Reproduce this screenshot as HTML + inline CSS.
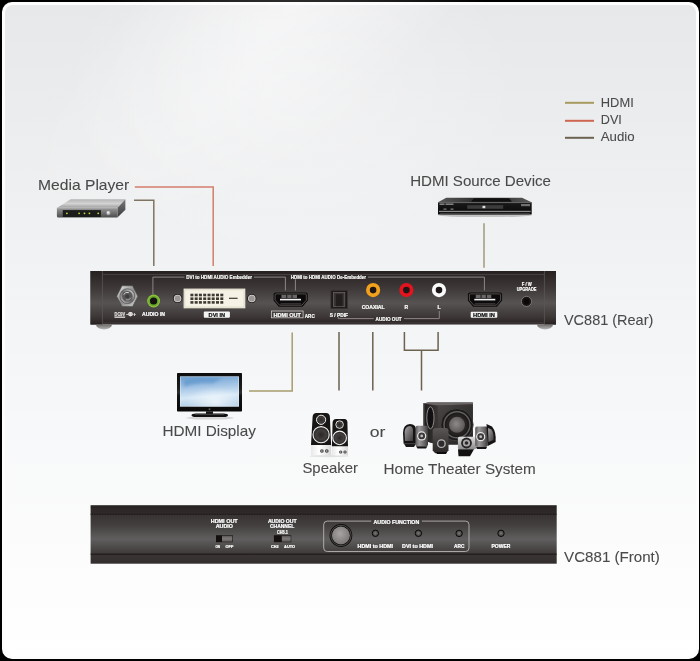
<!DOCTYPE html>
<html><head><meta charset="utf-8">
<style>
html,body{margin:0;padding:0;background:#000;width:700px;height:661px;overflow:hidden}
svg{display:block;font-family:"Liberation Sans",sans-serif;will-change:transform}
</style></head>
<body>
<svg width="700" height="661" viewBox="0 0 700 661">
<defs>
<linearGradient id="bg" x1="0" y1="0" x2="0" y2="1">
<stop offset="0" stop-color="#e7e8ea"/>
<stop offset="0.38" stop-color="#f1f2f3"/>
<stop offset="0.64" stop-color="#f7f8f9"/>
<stop offset="0.9" stop-color="#fdfdfd"/>
<stop offset="1" stop-color="#ffffff"/>
</linearGradient>
<linearGradient id="streak" gradientUnits="userSpaceOnUse" x1="220" y1="-110" x2="420" y2="60">
<stop offset="0" stop-color="#ffffff" stop-opacity="0"/>
<stop offset="0.5" stop-color="#ffffff" stop-opacity="0.5"/>
<stop offset="1" stop-color="#ffffff" stop-opacity="0"/>
</linearGradient>
<linearGradient id="streakFade" x1="0" y1="0" x2="0" y2="1">
<stop offset="0" stop-color="#fff" stop-opacity="1"/>
<stop offset="0.6" stop-color="#fff" stop-opacity="0"/>
</linearGradient>
<mask id="streakMask"><rect x="0" y="0" width="700" height="400" fill="url(#streakFade)"/></mask>
<linearGradient id="panelR" x1="0" y1="0" x2="0" y2="1">
<stop offset="0" stop-color="#262020"/>
<stop offset="0.1" stop-color="#2e2828"/>
<stop offset="0.3" stop-color="#3c3636"/>
<stop offset="0.6" stop-color="#575353"/>
<stop offset="0.86" stop-color="#3c3636"/>
<stop offset="0.95" stop-color="#2e2828"/>
<stop offset="1" stop-color="#262020"/>
</linearGradient>
<linearGradient id="panelF" x1="0" y1="0" x2="0" y2="1">
<stop offset="0" stop-color="#2a2424"/>
<stop offset="0.155" stop-color="#302a2a"/>
<stop offset="0.16" stop-color="#383232"/>
<stop offset="0.35" stop-color="#444040"/>
<stop offset="0.58" stop-color="#605e5e"/>
<stop offset="0.8" stop-color="#423e3e"/>
<stop offset="0.84" stop-color="#3a3535"/>
<stop offset="0.845" stop-color="#3a3434"/>
<stop offset="1" stop-color="#332e2e"/>
</linearGradient>
<linearGradient id="capR" x1="0" y1="0" x2="0" y2="1">
<stop offset="0" stop-color="#262020"/>
<stop offset="0.6" stop-color="#504a4a"/>
<stop offset="1" stop-color="#2a2424"/>
</linearGradient>
<linearGradient id="foot" x1="0" y1="0" x2="0" y2="1">
<stop offset="0" stop-color="#6e6a6a"/>
<stop offset="1" stop-color="#b8b6b6"/>
</linearGradient>
<linearGradient id="metal" x1="0" y1="0" x2="1" y2="1">
<stop offset="0" stop-color="#f0f0f0"/>
<stop offset="0.5" stop-color="#8a8888"/>
<stop offset="1" stop-color="#d8d8d8"/>
</linearGradient>
<linearGradient id="metal2" x1="1" y1="0" x2="0" y2="1">
<stop offset="0" stop-color="#e8e8e8"/>
<stop offset="0.5" stop-color="#6a6868"/>
<stop offset="1" stop-color="#c8c8c8"/>
</linearGradient>
<linearGradient id="sw" x1="0" y1="0" x2="0" y2="1">
<stop offset="0" stop-color="#5a5656"/>
<stop offset="0.5" stop-color="#7e7a7a"/>
<stop offset="1" stop-color="#5e5a5a"/>
</linearGradient>
<radialGradient id="btn" cx="0.45" cy="0.4" r="0.6">
<stop offset="0" stop-color="#a8a4a4"/>
<stop offset="1" stop-color="#7a7676"/>
</radialGradient>
<linearGradient id="mpTop" x1="0" y1="0" x2="0" y2="1">
<stop offset="0" stop-color="#b4b4b4"/>
<stop offset="0.5" stop-color="#d4d4d4"/>
<stop offset="1" stop-color="#9c9c9c"/>
</linearGradient>
<linearGradient id="mpSide" x1="0" y1="0" x2="0" y2="1">
<stop offset="0" stop-color="#7a7a7a"/>
<stop offset="1" stop-color="#3a3a3a"/>
</linearGradient>
<linearGradient id="mpFront" x1="0" y1="0" x2="0" y2="1">
<stop offset="0" stop-color="#9a9a9a"/>
<stop offset="1" stop-color="#4a4a4a"/>
</linearGradient>
<radialGradient id="knob" cx="0.4" cy="0.4" r="0.6">
<stop offset="0" stop-color="#ffffff"/>
<stop offset="1" stop-color="#8a8a8a"/>
</radialGradient>
<linearGradient id="srcTop" x1="0" y1="0" x2="1" y2="0">
<stop offset="0" stop-color="#5a5a5a"/>
<stop offset="0.35" stop-color="#333"/>
<stop offset="0.65" stop-color="#333"/>
<stop offset="1" stop-color="#5a5a5a"/>
</linearGradient>
<linearGradient id="srcFront" x1="0" y1="0" x2="0" y2="1">
<stop offset="0" stop-color="#1a1a1a"/>
<stop offset="1" stop-color="#080808"/>
</linearGradient>
<linearGradient id="screen" x1="0" y1="0" x2="0.15" y2="1">
<stop offset="0" stop-color="#6a9ed0"/>
<stop offset="0.4" stop-color="#a6c6e6"/>
<stop offset="0.72" stop-color="#d6e8f6"/>
<stop offset="1" stop-color="#b2d0ea"/>
</linearGradient>
<linearGradient id="bezel" x1="0" y1="0" x2="0" y2="1">
<stop offset="0" stop-color="#0c0c0c"/>
<stop offset="0.4" stop-color="#1e1e1e"/>
<stop offset="0.5" stop-color="#2e2e2e"/>
<stop offset="0.6" stop-color="#121212"/>
<stop offset="1" stop-color="#0a0a0a"/>
</linearGradient>
<radialGradient id="screenHi" cx="0.6" cy="0.85" r="0.5">
<stop offset="0" stop-color="#ffffff" stop-opacity="0.7"/>
<stop offset="1" stop-color="#ffffff" stop-opacity="0"/>
</radialGradient>
<linearGradient id="spBase" x1="0" y1="0" x2="1" y2="0">
<stop offset="0" stop-color="#e8e8e8"/>
<stop offset="0.4" stop-color="#ffffff"/>
<stop offset="1" stop-color="#d8d8d8"/>
</linearGradient>
<linearGradient id="subSide" x1="0" y1="0" x2="1" y2="0">
<stop offset="0" stop-color="#1e1c1c"/>
<stop offset="1" stop-color="#3a3636"/>
</linearGradient>
<linearGradient id="subFront" x1="0" y1="0" x2="1" y2="1">
<stop offset="0" stop-color="#4a4646"/>
<stop offset="1" stop-color="#222020"/>
</linearGradient>
<radialGradient id="cone" cx="0.45" cy="0.45" r="0.6">
<stop offset="0" stop-color="#8e8a8a"/>
<stop offset="1" stop-color="#565252"/>
</radialGradient>
<linearGradient id="sat" x1="0" y1="0" x2="1" y2="0">
<stop offset="0" stop-color="#6a6666"/>
<stop offset="0.5" stop-color="#3a3636"/>
<stop offset="1" stop-color="#1a1818"/>
</linearGradient>
<linearGradient id="sat2" x1="0" y1="0" x2="0" y2="1">
<stop offset="0" stop-color="#5a5656"/>
<stop offset="1" stop-color="#2a2626"/>
</linearGradient>
<linearGradient id="satRefl" x1="0" y1="0" x2="1" y2="1">
<stop offset="0" stop-color="#a8a6a6"/>
<stop offset="1" stop-color="#3a3838"/>
</linearGradient>
<linearGradient id="satMetal" x1="0" y1="0" x2="1" y2="0">
<stop offset="0" stop-color="#5a5858"/>
<stop offset="0.3" stop-color="#9a9898"/>
<stop offset="0.7" stop-color="#6a6868"/>
<stop offset="1" stop-color="#3a3838"/>
</linearGradient>
<linearGradient id="satSilver" x1="0" y1="0" x2="0" y2="1">
<stop offset="0" stop-color="#e0e0e0"/>
<stop offset="1" stop-color="#8a8a8a"/>
</linearGradient>
<filter id="blur2" x="-20%" y="-50%" width="140%" height="200%"><feGaussianBlur stdDeviation="1.6"/></filter>
<clipPath id="scrClip"><rect x="180" y="376.5" width="59" height="30"/></clipPath>
<radialGradient id="spCone" cx="0.5" cy="0.5" r="0.5">
<stop offset="0" stop-color="#2a2626"/>
<stop offset="0.6" stop-color="#433e3e"/>
<stop offset="1" stop-color="#2a2626"/>
</radialGradient>
<linearGradient id="metal3" x1="0" y1="0" x2="1" y2="1">
<stop offset="0" stop-color="#9a9898"/>
<stop offset="0.5" stop-color="#dcdcdc"/>
<stop offset="1" stop-color="#6a6868"/>
</linearGradient>
<radialGradient id="led" cx="0.5" cy="0.5" r="0.5">
<stop offset="0" stop-color="#7a7676"/>
<stop offset="1" stop-color="#3e3a3a"/>
</radialGradient>
<radialGradient id="glow" cx="0.5" cy="0.5" r="0.5">
<stop offset="0" stop-color="#ffffff" stop-opacity="0.35"/>
<stop offset="1" stop-color="#ffffff" stop-opacity="0"/>
</radialGradient>
</defs>
<!-- panel -->
<rect x="2" y="2" width="697" height="657" rx="10" ry="10" fill="#fdfdfd"/>
<rect x="5" y="5" width="691" height="651" rx="8" ry="8" fill="url(#bg)"/>
<rect x="5" y="5" width="691" height="400" fill="url(#streak)" mask="url(#streakMask)"/>
<ellipse cx="290" cy="90" rx="230" ry="170" fill="url(#glow)"/>

<!-- labels -->
<g fill="#4a4a4a" stroke="#4a4a4a" stroke-width="0.08"><!--TXT-->
<text x="38.02" y="189.8" font-size="14.5" textLength="91.26" lengthAdjust="spacingAndGlyphs">Media Player</text>
<text x="410.16" y="185.9" font-size="14.5" textLength="140.78" lengthAdjust="spacingAndGlyphs">HDMI Source Device</text>
<text x="162.54" y="436.4" font-size="14.5" textLength="93.36" lengthAdjust="spacingAndGlyphs">HDMI Display</text>
<text x="369.68" y="437.4" font-size="14.5" textLength="15.64" lengthAdjust="spacingAndGlyphs">or</text>
<text x="302.44" y="473.4" font-size="14.5" textLength="55.46" lengthAdjust="spacingAndGlyphs">Speaker</text>
<text x="383.40" y="473.6" font-size="14.5" textLength="152.44" lengthAdjust="spacingAndGlyphs">Home Theater System</text>
<text x="563.96" y="324.5" font-size="14.5" textLength="89.36" lengthAdjust="spacingAndGlyphs">VC881 (Rear)</text>
<text x="564.10" y="562.4" font-size="14.5" textLength="95.74" lengthAdjust="spacingAndGlyphs">VC881 (Front)</text>
<text x="600.82" y="107.0" font-size="12.5" textLength="32.92" lengthAdjust="spacingAndGlyphs">HDMI</text>
<text x="600.82" y="124.3" font-size="12.5" textLength="21.06" lengthAdjust="spacingAndGlyphs">DVI</text>
<text x="600.72" y="141.25" font-size="12.5" textLength="33.84" lengthAdjust="spacingAndGlyphs">Audio</text>
<!--/TXT--></g>
<!-- legend -->
<g stroke-width="2" fill="none">
<path d="M565 102.8H594" stroke="#a89a60"/>
<path d="M565 120.8H594" stroke="#cf6652"/>
<path d="M565 137.8H594" stroke="#6c6250"/>
</g>
<!-- connection lines -->
<g fill="none" stroke-width="1.5">
<path d="M134.8 187H213.2V266" stroke="#d47e6c"/>
<path d="M134 200.3H153.8V266" stroke="#7e7462"/>
<path d="M484 223.2V267.8" stroke="#a09a78"/>
<path d="M292.2 332.5V391H249" stroke="#a89c6e"/>
<path d="M339 332V390.4M372.8 332V390.4M404.4 332V350.3H438.1V332M421.5 350.3V390.4" stroke="#6c6250"/>
</g>

<!-- devices -->
<g id="mediaplayer">
<path d="M70.6 199.3H125.4L117.4 207.9H56.9Z" fill="url(#mpTop)"/>
<path d="M117.4 207.9L125.4 199.3V209.8L117.4 217.6Z" fill="url(#mpSide)"/>
<path d="M56.9 207.9H117.4V217.6H58.4Q56.9 217.6 56.9 216Z" fill="url(#mpFront)"/>
<path d="M56.9 207.9H117.4" stroke="#d8d8d8" stroke-width="0.6"/>
<rect x="62.8" y="210.1" width="38.1" height="6.9" fill="#1c1c1a"/>
<g fill="#c8e040">
<circle cx="66.9" cy="213.3" r="0.9"/><circle cx="79.1" cy="213.3" r="0.9"/><circle cx="84.5" cy="213.3" r="0.9"/><circle cx="89.4" cy="213.3" r="0.9"/><circle cx="98.2" cy="213.3" r="0.9"/>
</g>
<circle cx="108.5" cy="213" r="2.2" fill="url(#knob)"/>
</g>
<g id="hdmisrc">
<ellipse cx="485" cy="215.5" rx="47" ry="1.6" fill="#8a8a8a" opacity="0.45"/>
<path d="M446.2 197.7H522L531.7 202.2H438Z" fill="url(#srcTop)"/>
<path d="M474 198.2H509L512 201.8H471Z" fill="#101010"/>
<rect x="438" y="202.2" width="93.7" height="12.3" fill="url(#srcFront)"/>
<path d="M438 202.6H531.7" stroke="#7a7a7a" stroke-width="0.7"/>
<rect x="439" y="210.8" width="91.7" height="1.3" fill="#8a8a8a"/>
<rect x="440" y="213.2" width="89.7" height="1.3" fill="#4a4a4a"/>
<rect x="467.2" y="205.2" width="36" height="3.6" fill="#3c3c3c"/>
<rect x="482.5" y="205.8" width="2.8" height="2.4" fill="#e0e0e0"/>
<rect x="439.5" y="203.6" width="5" height="1.1" fill="#b0b0b0"/>
<rect x="445.5" y="203.6" width="8" height="1.1" fill="#b0b0b0"/>
<rect x="443.5" y="208.6" width="3" height="1" fill="#9a9a9a"/>
<rect x="450.5" y="208.6" width="3" height="1" fill="#9a9a9a"/>
<rect x="521" y="204" width="9" height="2.2" fill="#707070"/>
</g>
<g id="tv">
<ellipse cx="210" cy="418" rx="24" ry="1.6" fill="#c8c8c8" opacity="0.7"/>
<rect x="177" y="373" width="65" height="38.5" rx="0.8" fill="url(#bezel)"/>
<rect x="180" y="376.5" width="59" height="30" fill="url(#screen)"/>
<rect x="180" y="376.5" width="59" height="30" fill="url(#screenHi)"/>
<path d="M184 380Q200 377.5 222 378L213 383.5Q196 382 184 387Z" fill="#3f7fc0" opacity="0.4" filter="url(#blur2)" clip-path="url(#scrClip)"/>
<rect x="180.3" y="376.8" width="58.4" height="29.4" fill="none" stroke="#e8f2fa" stroke-width="0.6" opacity="0.8"/>
<circle cx="209.5" cy="409.2" r="1" fill="#5a5a5a"/>
<rect x="206" y="411.3" width="7" height="3" fill="#151515"/>
<path d="M191.5 415.3Q191.5 413.5 196 413.5H223.5Q228 413.5 228 415.3Q228 417.1 223.5 417.1H196Q191.5 417.1 191.5 415.3Z" fill="#121212"/>
<path d="M195 414.3H224" stroke="#6a6a6a" stroke-width="0.6"/>
</g>
<g id="speakers">
<ellipse cx="329" cy="456" rx="20" ry="1.2" fill="#d0d0d0" opacity="0.6"/>
<path d="M312.6 417Q312.8 413.1 316.5 413.1H326Q329.7 413.1 329.9 417L331.1 445H311Z" fill="#181515"/>
<rect x="311" y="445" width="20.1" height="10.2" fill="url(#spBase)"/>
<circle cx="321.1" cy="419.8" r="4.6" fill="url(#spCone)" stroke="#f0f0f0" stroke-width="1"/>
<circle cx="321.1" cy="434.7" r="8.1" fill="url(#spCone)" stroke="#f0f0f0" stroke-width="1.1"/>
<circle cx="321.9" cy="451" r="1.8" fill="#3a3a3a"/><circle cx="321.9" cy="451" r="0.8" fill="#cfcfcf"/>
<circle cx="326.8" cy="451" r="1.8" fill="#3a3a3a"/><circle cx="326.8" cy="451" r="0.8" fill="#cfcfcf"/>
<path d="M332.6 422.5Q332.8 419 336 419H344.5Q347.3 419 347.4 422.5L348 446.5H331.9Z" fill="#181515"/>
<rect x="331.9" y="446.5" width="16.1" height="9" fill="url(#spBase)"/>
<circle cx="339.6" cy="424.6" r="3.8" fill="url(#spCone)" stroke="#f0f0f0" stroke-width="0.9"/>
<circle cx="339.6" cy="437.9" r="6.8" fill="url(#spCone)" stroke="#f0f0f0" stroke-width="1.1"/>
<circle cx="340.7" cy="452" r="1.6" fill="#3a3a3a"/><circle cx="340.7" cy="452" r="0.7" fill="#cfcfcf"/>
<circle cx="345" cy="452" r="1.6" fill="#3a3a3a"/><circle cx="345" cy="452" r="0.7" fill="#cfcfcf"/>
</g>
<g id="theater">
<!-- subwoofer -->
<path d="M423.3 403.4L428 402.6H472.8V444.5H437.5L423.3 440.5Z" fill="#262222"/>
<path d="M423.3 403.4L437.5 405.6V444.5L423.3 440.5Z" fill="url(#subSide)"/>
<path d="M437.5 405.6L472.8 404.2V444.5H437.5Z" fill="url(#subFront)"/>
<path d="M423.3 403.4L428 402.6H472.8V404.2L437.5 405.6Z" fill="#6a6666"/>
<path d="M423.8 404V440" stroke="#8a8686" stroke-width="0.8"/>
<ellipse cx="430.4" cy="417.8" rx="3.6" ry="11" fill="#121010" stroke="#9a9696" stroke-width="0.9"/>
<circle cx="457" cy="424.8" r="16.2" fill="#1c1a1a" stroke="#4a4646" stroke-width="0.8"/>
<circle cx="457" cy="424.8" r="13" fill="none" stroke="#625e5e" stroke-width="1.4"/>
<circle cx="457" cy="424.8" r="10.8" fill="#262222"/>
<circle cx="457" cy="424.8" r="8" fill="url(#cone)"/>
<!-- satellites -->
<path d="M403 433Q403 424.5 410 424Q416.2 424 416.2 431V443.7H403.6Z" fill="#141212"/>
<path d="M404.6 432Q405 426.5 410 426Q413 426.5 413 431V441H405Z" fill="url(#satRefl)"/>
<path d="M404 443.7H416L414 447H406Z" fill="#1a1818"/>
<rect x="415.4" y="425.7" width="12.6" height="20.5" rx="1.8" fill="url(#satMetal)"/>
<circle cx="421.7" cy="435.9" r="4.6" fill="#e6e6e6"/>
<circle cx="421.7" cy="435.9" r="3.4" fill="#3a3838"/>
<circle cx="421.7" cy="435.9" r="1.4" fill="#bdbdbd"/>
<path d="M416 446.2H427.5L426 448.5H417.5Z" fill="#151313"/>
<path d="M432.7 431Q432.7 428 436 428H445.5Q448.5 428 448.5 431V450.5L446 453.2H435.2L432.7 450.5Z" fill="url(#sat2)"/>
<circle cx="441.4" cy="443.7" r="4.4" fill="#b8b6b6"/>
<circle cx="441.4" cy="443.7" r="3.1" fill="#2e2c2c"/>
<path d="M436 452H447L446 454H437Z" fill="#0e0c0c"/>
<rect x="457.9" y="436.7" width="18.1" height="12.5" rx="1.5" fill="url(#satSilver)"/>
<circle cx="466.5" cy="443" r="5.4" fill="#252323"/>
<circle cx="466.5" cy="443" r="3.6" fill="#a8a6a6"/>
<circle cx="466.5" cy="443" r="1.8" fill="#2a2828"/>
<path d="M458 449.2H474L470 456.3H458.5Z" fill="#121010"/>
<rect x="475.2" y="426.4" width="12.6" height="20.5" rx="1.8" fill="url(#satMetal)"/>
<circle cx="480.7" cy="436.7" r="4.6" fill="#e6e6e6"/>
<circle cx="480.7" cy="436.7" r="3.4" fill="#3a3838"/>
<circle cx="480.7" cy="436.7" r="1.4" fill="#bdbdbd"/>
<path d="M476 446.9H487L486 449H477Z" fill="#151313"/>
<path d="M486.5 424L492 426.5Q496.5 432 495.6 442L487.8 446Z" fill="#161414"/>
<path d="M488 428L491.5 429.5Q494 433 493.5 440L488.5 442Z" fill="url(#satRefl)"/>
</g>
<!-- rear panel -->
<g id="rear">
<rect x="90.5" y="271" width="465.5" height="53.5" fill="url(#panelR)"/>
<rect x="90.5" y="271" width="12" height="53.5" fill="url(#panelR)"/>
<rect x="544.4" y="271" width="11.6" height="53.5" fill="url(#panelR)"/>
<g stroke="#6b6363" stroke-width="0.8" fill="none">
<path d="M102.4 271V324.5M544.4 271V324.5" stroke="#5e5656"/>
<path d="M102.4 274.5H544.4M102.4 323H544.4" stroke="#4e4646"/>
</g>
<!-- feet -->
<path d="M96 324.5H112A8 5 0 0 1 96 324.5Z" fill="url(#foot)"/>
<path d="M537 324.5H553A8 5 0 0 1 537 324.5Z" fill="url(#foot)"/>
<!-- power nut -->
<g transform="translate(127.3 296.2)">
<path d="M-10.6 0L-5.3 -10.4H5.3L10.6 0L5.3 10.4H-5.3Z" fill="url(#metal)" stroke="#4a4646" stroke-width="0.6"/>
<circle r="7.4" fill="url(#metal2)" stroke="#4e4c4c" stroke-width="0.7"/>
<circle r="5.2" fill="#595757"/>
<path d="M-3.6 -1.5A4 4 0 0 1 1.5 -3.6" stroke="#e0e0e0" stroke-width="0.9" fill="none"/>
<path d="M3.6 1.5A4 4 0 0 1 -1.5 3.6" stroke="#bdbdbd" stroke-width="0.8" fill="none"/>
<circle r="2" fill="#3e3c3c"/>
</g>
<g fill="#e8e4e4" stroke="#e8e4e4" stroke-width="0.15" font-weight="bold" font-size="5">
<text x="114.6" y="316" font-size="4.6" textLength="10.5" lengthAdjust="spacingAndGlyphs">DC9V</text>
<rect x="114.6" y="316.6" width="10.5" height="1.2"/>
<text x="126.2" y="316" font-size="5.5" textLength="10" lengthAdjust="spacingAndGlyphs">-&#x2295;+</text>
</g>
<!-- audio in -->
<circle cx="153.6" cy="301" r="6.4" fill="#8cc43c"/>
<circle cx="153.6" cy="301" r="5.2" fill="#6aa82a"/>
<circle cx="153.6" cy="301" r="3.6" fill="#151212"/>
<!-- top lines -->
<g stroke="#8e8686" stroke-width="1" fill="none">
<path d="M152.9 294.5V277.1H184.5"/>
<path d="M254 277.1H285.4V290.5"/>
<path d="M295.4 279.3V290.5"/>
<path d="M368 277.1H484.4V290.5"/>
<path d="M338.3 316.8V318.6H373.7"/>
<path d="M404 318.6H439.3V311"/>
</g>
<g fill="#ffffff" stroke="#ffffff" stroke-width="0.2" font-weight="bold" font-size="5.2">
<text x="186.3" y="279.2" textLength="65.7" lengthAdjust="spacingAndGlyphs">DVI to HDMI AUDIO Embedder</text>
<text x="290.7" y="279.2" textLength="75.4" lengthAdjust="spacingAndGlyphs">HDMI to HDMI AUDIO De-Embedder</text>
<text x="142" y="316.3" textLength="23" lengthAdjust="spacingAndGlyphs">AUDIO IN</text>
<text x="304.8" y="317.5" textLength="9.9" lengthAdjust="spacingAndGlyphs">ARC</text>
<text x="329.7" y="316.8" textLength="18.3" lengthAdjust="spacingAndGlyphs">S / PDIF</text>
<text x="361.7" y="309.3" textLength="22.9" lengthAdjust="spacingAndGlyphs">COAXIAL</text>
<text x="404.6" y="309.3" textLength="3.6" lengthAdjust="spacingAndGlyphs">R</text>
<text x="437.5" y="309.3" textLength="3.2" lengthAdjust="spacingAndGlyphs">L</text>
<text x="375.6" y="320.6" textLength="26" lengthAdjust="spacingAndGlyphs">AUDIO OUT</text>
<text x="521.7" y="285.8" textLength="10" lengthAdjust="spacingAndGlyphs">F / W</text>
<text x="516.7" y="290.5" textLength="19.8" lengthAdjust="spacingAndGlyphs">UPGRADE</text>
</g>
<!-- DVI -->
<g>
<circle cx="177.6" cy="298.5" r="4.6" fill="#1a1616"/>
<circle cx="177.6" cy="298.5" r="3.8" fill="#d8d4d4"/>
<circle cx="177.6" cy="298.5" r="2.9" fill="#9a9696"/>
<circle cx="251.8" cy="298.5" r="4.6" fill="#1a1616"/>
<circle cx="251.8" cy="298.5" r="3.8" fill="#d8d4d4"/>
<circle cx="251.8" cy="298.5" r="2.9" fill="#9a9696"/>
<rect x="183.6" y="288.6" width="61.7" height="19.7" fill="#f6f3e6"/>
<rect x="184.8" y="289.8" width="59.3" height="17.3" fill="none" stroke="#d8d2bc" stroke-width="0.8"/>
<g fill="#3e3a34" id="pins">
<rect x="190.4" y="293.7" width="3" height="2.6"/><rect x="194.7" y="293.7" width="3" height="2.6"/><rect x="198.9" y="293.7" width="3" height="2.6"/><rect x="203.2" y="293.7" width="3" height="2.6"/><rect x="207.5" y="293.7" width="3" height="2.6"/><rect x="211.7" y="293.7" width="3" height="2.6"/><rect x="216" y="293.7" width="3" height="2.6"/><rect x="220.3" y="293.7" width="3" height="2.6"/>
<rect x="190.4" y="297.4" width="3" height="2.6"/><rect x="194.7" y="297.4" width="3" height="2.6"/><rect x="198.9" y="297.4" width="3" height="2.6"/><rect x="203.2" y="297.4" width="3" height="2.6"/><rect x="207.5" y="297.4" width="3" height="2.6"/><rect x="211.7" y="297.4" width="3" height="2.6"/><rect x="216" y="297.4" width="3" height="2.6"/><rect x="220.3" y="297.4" width="3" height="2.6"/>
<rect x="190.4" y="301.1" width="3" height="2.6"/><rect x="194.7" y="301.1" width="3" height="2.6"/><rect x="198.9" y="301.1" width="3" height="2.6"/><rect x="203.2" y="301.1" width="3" height="2.6"/><rect x="207.5" y="301.1" width="3" height="2.6"/><rect x="211.7" y="301.1" width="3" height="2.6"/><rect x="216" y="301.1" width="3" height="2.6"/><rect x="220.3" y="301.1" width="3" height="2.6"/>
<rect x="229" y="297.7" width="8.6" height="1.2"/>
</g>
<rect x="203.8" y="311.4" width="26.1" height="6.3" rx="1" fill="#f4f4f4"/>
<text x="208.6" y="316.6" fill="#111" stroke="#111" stroke-width="0.2" font-weight="bold" font-size="5.2" textLength="16.5" lengthAdjust="spacingAndGlyphs">DVI IN</text>
</g>
<!-- HDMI OUT connector -->
<g id="hdmi">
<path d="M273.6 294.6Q273.6 292.4 275.8 292.4H305.6Q307.8 292.4 307.8 294.6V300.6L302.6 306.7H278.8L273.6 300.6Z" fill="#0c0a0a"/>
<path d="M275.1 295Q275.1 293.9 276.2 293.9H305.2Q306.3 293.9 306.3 295V300.2L301.9 305.2H279.5L275.1 300.2Z" fill="none" stroke="#6e6868" stroke-width="0.7"/>
<rect x="281.4" y="294.8" width="15.6" height="3.3" fill="#6a6666"/>
<rect x="286.3" y="294.8" width="0.9" height="3.3" fill="#0c0a0a"/>
<rect x="291.6" y="294.8" width="0.9" height="3.3" fill="#0c0a0a"/>
<rect x="280" y="298.8" width="21" height="1.6" fill="#f2f2f2"/>
<path d="M280.5 303.8H301" stroke="#5a5656" stroke-width="0.7"/>
</g>
<rect x="271.4" y="311" width="31.7" height="6.8" fill="none" stroke="#cfcaca" stroke-width="0.8"/>
<text x="273.6" y="316.7" fill="#fff" stroke="#fff" stroke-width="0.2" font-weight="bold" font-size="5.2" textLength="27.4" lengthAdjust="spacingAndGlyphs">HDMI  OUT</text>
<g transform="translate(194.3 0)">
<path d="M273.6 294.6Q273.6 292.4 275.8 292.4H305.6Q307.8 292.4 307.8 294.6V300.6L302.6 306.7H278.8L273.6 300.6Z" fill="#0c0a0a"/>
<path d="M275.1 295Q275.1 293.9 276.2 293.9H305.2Q306.3 293.9 306.3 295V300.2L301.9 305.2H279.5L275.1 300.2Z" fill="none" stroke="#6e6868" stroke-width="0.7"/>
<rect x="281.4" y="294.8" width="15.6" height="3.3" fill="#6a6666"/>
<rect x="286.3" y="294.8" width="0.9" height="3.3" fill="#0c0a0a"/>
<rect x="291.6" y="294.8" width="0.9" height="3.3" fill="#0c0a0a"/>
<rect x="280" y="298.8" width="21" height="1.6" fill="#f2f2f2"/>
<path d="M280.5 303.8H301" stroke="#5a5656" stroke-width="0.7"/>
</g>
<rect x="470.7" y="311.7" width="26.6" height="6" rx="1" fill="#f4f4f4"/>
<text x="473" y="316.6" fill="#111" stroke="#111" stroke-width="0.2" font-weight="bold" font-size="5.2" textLength="22" lengthAdjust="spacingAndGlyphs">HDMI IN</text>
<!-- SPDIF -->
<rect x="330.9" y="290.3" width="16.5" height="18.3" fill="#1e1a1a" stroke="#3a3434" stroke-width="0.8"/>
<rect x="333.6" y="292.6" width="11.2" height="13.8" fill="#3a3434" stroke="#6e6868" stroke-width="0.7"/>
<rect x="335.8" y="294.2" width="6.8" height="12" fill="#231e1e"/>
<!-- RCA -->
<circle cx="373.1" cy="290.1" r="7.1" fill="#f2a11c"/>
<circle cx="373.1" cy="290.1" r="3.3" fill="#1c1616"/>
<circle cx="406.4" cy="290.1" r="7.1" fill="#e4141e"/>
<circle cx="406.4" cy="290.1" r="3.3" fill="#1c1616"/>
<circle cx="439" cy="290.1" r="7.1" fill="#fafafa"/>
<circle cx="439" cy="290.1" r="3.3" fill="#1c1616"/>
<!-- fw jack -->
<circle cx="526.5" cy="301.4" r="5.1" fill="#1a1616" stroke="#8a8484" stroke-width="0.8"/>
<circle cx="526.5" cy="301.4" r="2.8" fill="#0a0808"/>
</g>
<!-- front panel -->
<g id="front">
<rect x="90.6" y="505.2" width="466.1" height="58.5" fill="url(#panelF)"/>
<path d="M90.6 514.3H556.7" stroke="#141010" stroke-width="0.9" stroke-dasharray="1 0.6"/>
<path d="M90.6 507.6H556.7" stroke="#1a1616" stroke-width="0.6" stroke-dasharray="1 1" opacity="0.6"/>
<path d="M90.6 554.2H556.7" stroke="#181414" stroke-width="0.9"/>
<g fill="#ffffff" stroke="#ffffff" stroke-width="0.2" font-weight="bold" font-size="4.8">
<text x="210.7" y="523" textLength="27" lengthAdjust="spacingAndGlyphs">HDMI OUT</text>
<text x="215.7" y="527.9" textLength="17.3" lengthAdjust="spacingAndGlyphs">AUDIO</text>
<text x="267.9" y="523" textLength="28.8" lengthAdjust="spacingAndGlyphs">AUDIO OUT</text>
<text x="270" y="527.9" textLength="24.3" lengthAdjust="spacingAndGlyphs">CHANNEL</text>
<text x="277" y="533.6" font-size="5" textLength="11" lengthAdjust="spacingAndGlyphs">CH5.1</text>
<text x="215.4" y="547.8" font-size="4" textLength="4.7" lengthAdjust="spacingAndGlyphs">ON</text>
<text x="225.6" y="547.8" font-size="4" textLength="7.7" lengthAdjust="spacingAndGlyphs">OFF</text>
<text x="271.1" y="547.8" font-size="4" textLength="7.5" lengthAdjust="spacingAndGlyphs">CH2</text>
<text x="284.1" y="547.8" font-size="4" textLength="11" lengthAdjust="spacingAndGlyphs">AUTO</text>
<text x="373.5" y="523.5" font-size="5" textLength="45.8" lengthAdjust="spacingAndGlyphs">AUDIO  FUNCTION</text>
<text x="357.6" y="547.8" font-size="4.6" textLength="35.4" lengthAdjust="spacingAndGlyphs">HDMI to HDMI</text>
<text x="402.1" y="547.8" font-size="4.6" textLength="30.9" lengthAdjust="spacingAndGlyphs">DVI to HDMI</text>
<text x="454.1" y="547.8" font-size="4.6" textLength="10.3" lengthAdjust="spacingAndGlyphs">ARC</text>
<text x="491.5" y="547.8" font-size="4.6" textLength="19" lengthAdjust="spacingAndGlyphs">POWER</text>
</g>
<!-- switches -->
<rect x="216" y="535.2" width="16.7" height="7" fill="#141010"/>
<rect x="222" y="535.7" width="10.2" height="6" fill="url(#sw)"/>
<rect x="273.9" y="535.2" width="17.3" height="7" fill="#141010"/>
<rect x="281.8" y="535.7" width="8.9" height="6" fill="url(#sw)"/>
<!-- audio function box -->
<path d="M371.3 521.1H327.2Q323.7 521.1 323.7 524.6V548Q323.7 551.5 327.2 551.5H465.5Q469 551.5 469 548V524.6Q469 521.1 465.5 521.1H421.9" fill="none" stroke="#c8c2c2" stroke-width="0.8"/>
<circle cx="340.9" cy="535.5" r="11.4" fill="#0e0c0c"/>
<circle cx="340.9" cy="535.5" r="10.2" fill="none" stroke="#7a7474" stroke-width="0.6"/>
<circle cx="340.9" cy="535.5" r="9" fill="url(#btn)"/>
<g fill="url(#led)" stroke="#0c0a0a" stroke-width="1">
<circle cx="375.4" cy="533.3" r="3.2"/>
<circle cx="418.4" cy="533.3" r="3.2"/>
<circle cx="459.1" cy="533.4" r="3.2"/>
<circle cx="501" cy="533.3" r="3.2"/>
</g>
</g>
</svg>
</body></html>
